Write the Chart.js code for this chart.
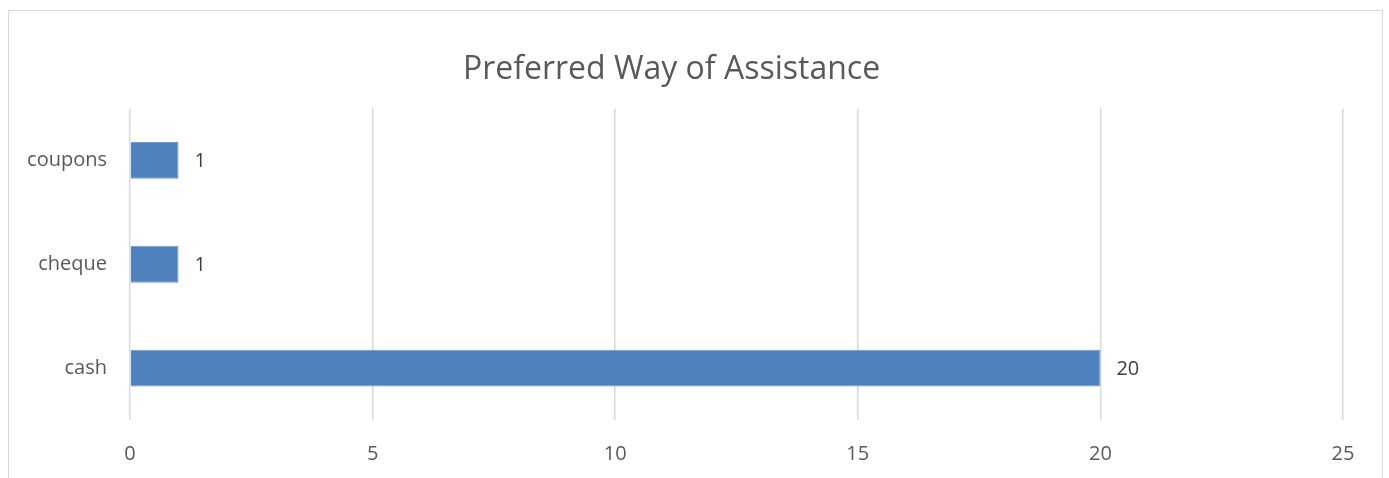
<!DOCTYPE html>
<html>
<head>
<meta charset="utf-8">
<script src="https://cdn.jsdelivr.net/npm/chart.js@4.4.1/dist/chart.umd.min.js"></script>
<style>
  html, body { margin: 0; padding: 0; background: #fff; }
  #wrap { position: relative; width: 1389px; height: 478px; overflow: hidden; }
  #frame { position: absolute; left: 8px; top: 10px; width: 1375px; height: 500px;
           border: 1.5px solid #d9d9d9; box-sizing: border-box; }
  canvas { position: absolute; left: 0; top: 0; }
</style>
</head>
<body>
<div id="wrap">
  <div id="frame"></div>
  <canvas id="chart" width="1389" height="478"></canvas>
</div>
<script>
// --- data ---
const categories = ["coupons", "cheque", "cash"];
const counts = [1, 1, 20];
const xTicks = [0, 5, 10, 15, 20, 25];

const FONT = "'Open Sans', 'Liberation Sans', sans-serif";

// value labels drawn just past the end of each bar
const barLabels = {
  id: "barLabels",
  afterDatasetsDraw(chart) {
    const ctx = chart.ctx;
    const meta = chart.getDatasetMeta(0);
    ctx.save();
    ctx.font = "20px " + FONT;
    ctx.fillStyle = "#404040";
    ctx.textAlign = "left";
    ctx.textBaseline = "middle";
    meta.data.forEach((bar, i) => {
      ctx.fillText(String(counts[i]), bar.x + 16, bar.y + 1);
    });
    ctx.restore();
  }
};

new Chart(document.getElementById("chart"), {
  type: "bar",
  data: {
    labels: categories,
    datasets: [{
      data: counts,
      backgroundColor: "#4f81bd",
      borderColor: "#6b96c9",
      borderWidth: 1,
      categoryPercentage: 1,
      barPercentage: 0.355
    }]
  },
  options: {
    indexAxis: "y",
    responsive: false,
    animation: false,
    layout: { padding: { left: 0, right: 46, top: 0, bottom: 0 } },
    plugins: {
      legend: { display: false },
      tooltip: { enabled: false },
      title: {
        display: true,
        text: "Preferred Way of Assistance",
        color: "#595959",
        font: { family: FONT, size: 32, weight: "normal" },
        padding: { top: 51, bottom: 19 }
      }
    },
    scales: {
      x: {
        min: 0, max: 25,
        afterBuildTicks(axis) { axis.ticks = xTicks.map(v => ({ value: v })); },
        afterFit(axis) { axis.height = 58; },
        grid: { color: "#d9d9d9", lineWidth: 1.5, drawTicks: false },
        border: { display: false },
        ticks: { color: "#595959", padding: 22, font: { family: FONT, size: 20 } }
      },
      y: {
        afterFit(axis) { axis.width = 130; },
        grid: { display: false },
        border: { display: false },
        ticks: { color: "#595959", padding: 15, font: { family: FONT, size: 20 } }
      }
    }
  },
  plugins: [barLabels]
});
</script>
</body>
</html>
